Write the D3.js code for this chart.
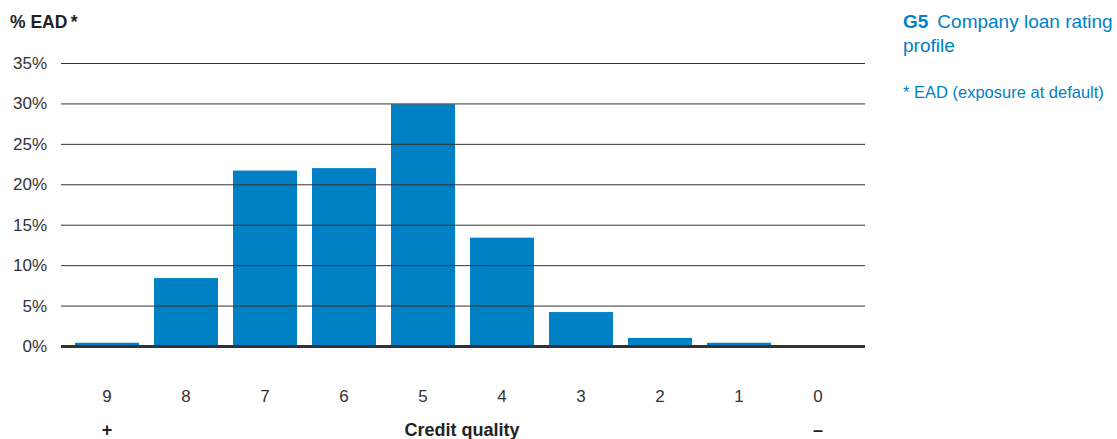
<!DOCTYPE html>
<html>
<head>
<meta charset="utf-8">
<script src="https://cdn.jsdelivr.net/npm/d3@7"></script>
<style>
  body { margin: 0; background: #fff; }
  svg { font-family: "Liberation Sans", Arial, sans-serif; }
</style>
</head>
<body>
<script>
// Credit quality grades, best (9) to worst (0)
var grades = ['9', '8', '7', '6', '5', '4', '3', '2', '1', '0'];
// share of EAD per grade, in %
var shares = [0.4, 8.4, 21.7, 22.0, 29.9, 13.4, 4.2, 1.0, 0.4, 0];
var yTicks = [0, 5, 10, 15, 20, 25, 30, 35];

var width = 1117, height = 439;
var blue = '#0081c6';

var svg = d3.select('body').append('svg')
  .attr('width', width)
  .attr('height', height);

var x = d3.scaleBand()
  .domain(grades)
  .range([67.5, 857.5])
  .paddingInner(0.19)
  .paddingOuter(0.095);

var y = d3.scaleLinear()
  .domain([0, 35])
  .range([346, 63]);

// bars first, grid lines sit on top of them
svg.selectAll('rect.bar')
  .data(shares)
  .enter()
  .append('rect')
  .attr('class', 'bar')
  .attr('x', function(d, i) { return x(grades[i]); })
  .attr('width', x.bandwidth())
  .attr('y', function(d) { return y(d); })
  .attr('height', function(d) { return y(0) - y(d); })
  .attr('fill', blue);

// y axis: labels + grid lines
var yAxis = d3.axisLeft(y)
  .tickValues(yTicks)
  .tickSize(-(865 - 61))
  .tickPadding(14)
  .tickFormat(function(d) { return d + '%'; });

var gy = svg.append('g')
  .attr('transform', 'translate(61,0)')
  .call(yAxis);
gy.select('.domain').remove();
gy.selectAll('.tick line')
  .attr('stroke', '#333')
  .attr('stroke-width', function(d) { return d === 0 ? 3 : 1; });
gy.selectAll('.tick text')
  .attr('fill', '#333')
  .attr('font-size', 17)
  .attr('font-family', '"Liberation Sans", Arial, sans-serif');

// x axis labels
var xAxis = d3.axisBottom(x).tickSize(0).tickPadding(0);
var gx = svg.append('g')
  .attr('transform', 'translate(0,390)')
  .call(xAxis);
gx.select('.domain').remove();
gx.selectAll('.tick text')
  .attr('fill', '#333')
  .attr('font-size', 17)
  .attr('font-family', '"Liberation Sans", Arial, sans-serif');

// axis titles
svg.append('text')
  .attr('x', 10).attr('y', 28)
  .attr('font-size', 17.5).attr('font-weight', 'bold').attr('fill', '#222')
  .text('% EAD\u2009*');

svg.append('text')
  .attr('x', x('9') + x.bandwidth() / 2).attr('y', 436)
  .attr('text-anchor', 'middle')
  .attr('font-size', 18).attr('font-weight', 'bold').attr('fill', '#222')
  .text('+');
svg.append('text')
  .attr('x', 462).attr('y', 436)
  .attr('text-anchor', 'middle')
  .attr('font-size', 18).attr('font-weight', 'bold').attr('fill', '#222')
  .text('Credit quality');
svg.append('text')
  .attr('x', x('0') + x.bandwidth() / 2).attr('y', 436)
  .attr('text-anchor', 'middle')
  .attr('font-size', 18).attr('font-weight', 'bold').attr('fill', '#222')
  .text('–');

// caption on the right
var cap = svg.append('text')
  .attr('x', 903).attr('y', 28)
  .attr('font-size', 19).attr('fill', blue);
cap.append('tspan').attr('font-weight', 'bold').text('G5');
cap.append('tspan').attr('dx', 9).text('Company loan rating');
svg.append('text')
  .attr('x', 903).attr('y', 52)
  .attr('font-size', 19).attr('fill', blue)
  .text('profile');
svg.append('text')
  .attr('x', 903).attr('y', 98)
  .attr('font-size', 16.5).attr('fill', blue)
  .text('* EAD (exposure at default)');
</script>
</body>
</html>
